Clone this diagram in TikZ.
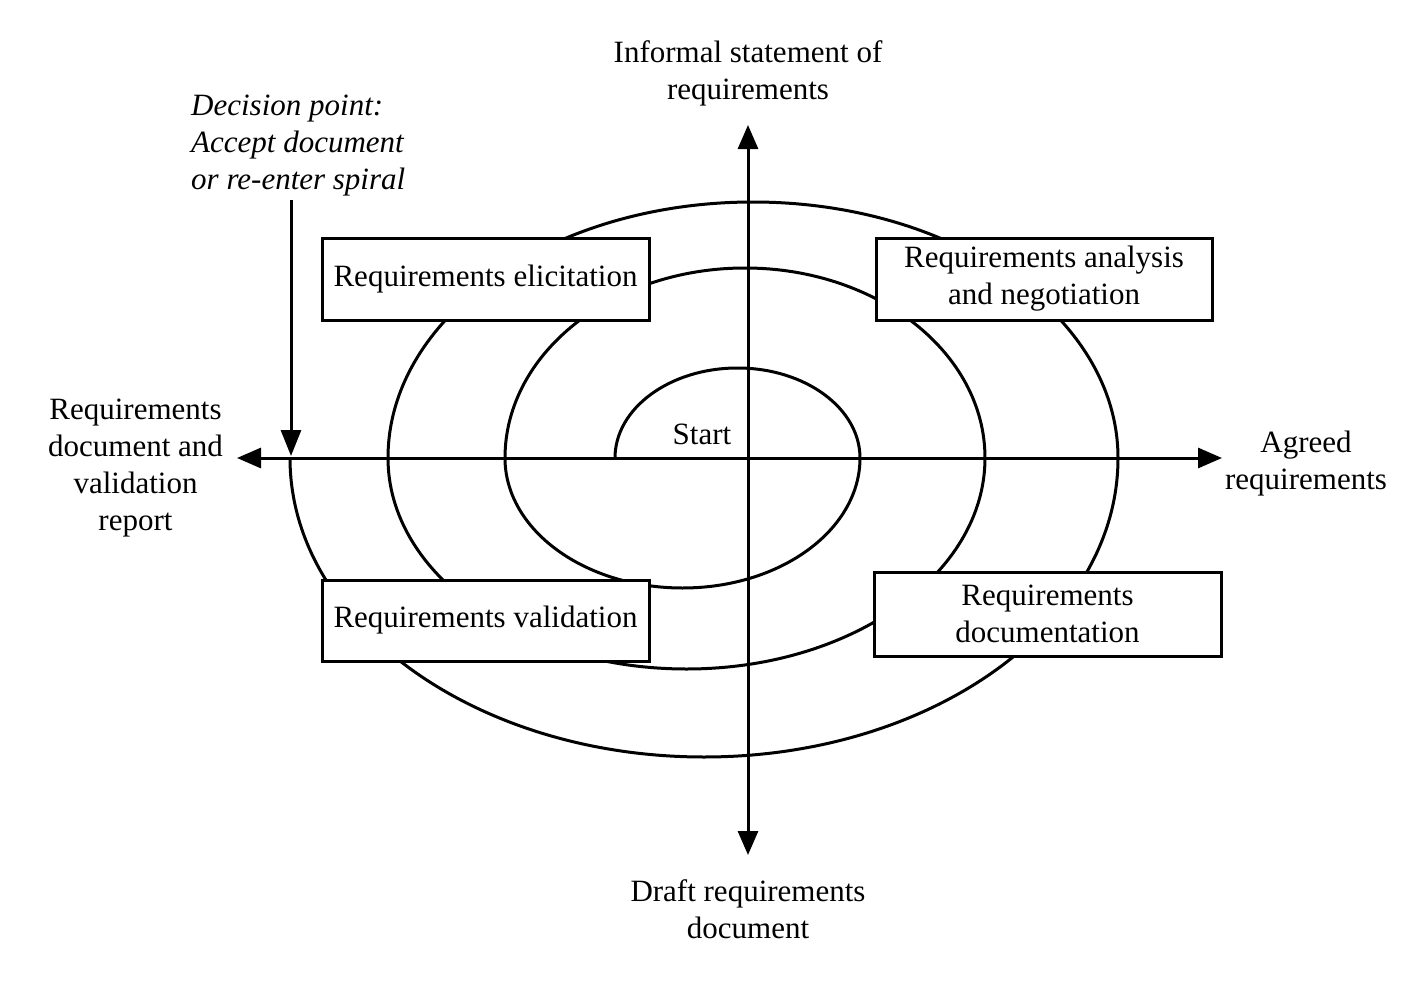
\documentclass[tikz,border=0pt]{standalone}
\usepackage{fontspec}
\setmainfont{Liberation Serif}
\usetikzlibrary{arrows.meta}
\begin{document}
\begin{tikzpicture}[x=1pt,y=1pt,
  line/.style={line width=3pt},
  twotips/.style={{Triangle[length=24pt,width=20pt]}-{Triangle[length=24pt,width=20pt]}},
  onetip/.style={-{Triangle[length=26pt,width=20pt]}},
  box/.style={draw,line width=3pt,fill=white,align=center,inner sep=0pt},
  lbl/.style={align=center,inner sep=0pt},
  font=\fontsize{31}{37}\selectfont]
\fill[white] (0,0) rectangle (1414,-982);
\useasboundingbox (0,0) rectangle (1414,-982);
% spiral
\draw[line] (615,-458)
  arc[start angle=180,end angle=0,x radius=122.5pt,y radius=90pt]
  arc[start angle=0,end angle=-180,x radius=177.5pt,y radius=130pt]
  arc[start angle=180,end angle=0,x radius=240pt,y radius=190pt]
  arc[start angle=0,end angle=-180,x radius=298.5pt,y radius=211pt]
  arc[start angle=180,end angle=0,x radius=365pt,y radius=256pt]
  arc[start angle=0,end angle=-180,x radius=414pt,y radius=299pt];
% axes
\coordinate (hL) at (237,-458);
\coordinate (hR) at (1222,-458);
\coordinate (vT) at (748,-125);
\coordinate (vB) at (748,-855);
\draw[line,twotips] (hL) -- (hR);
\draw[line,twotips] (vT) -- (vB);
% decision arrow
\coordinate (dTop) at (291,-200);
\coordinate (dEnd) at (291,-456);
\draw[line,onetip] (dTop) -- (dEnd);
% boxes
\node[box,minimum width=327pt,minimum height=82pt] (elic) at (485.5,-279) {Requirements elicitation};
\node[box,minimum width=336pt,minimum height=82pt] (anal) at (1044,-279) {Requirements analysis\\and negotiation};
\node[box,minimum width=327pt,minimum height=81pt] (vali) at (485.5,-620.5) {Requirements validation};
\node[box,minimum width=347pt,minimum height=84pt] (docu) at (1047.5,-614) {Requirements\\documentation};
% labels
\node[lbl] (inf) at (748,-73) {Informal statement of\\requirements};
\node[lbl,align=left,anchor=west,font=\fontsize{31}{37}\selectfont\itshape] (dec) at (191,-146) {Decision point:\\Accept document\\or re-enter spiral};
\node[lbl] (rdoc) at (135.5,-468) {Requirements\\document and\\validation\\report};
\node[lbl] (start) at (702,-434) {Start};
\node[lbl] (agr) at (1306,-464) {Agreed\\requirements};
\node[lbl] (draft) at (748,-909) {Draft requirements\\document};
\end{tikzpicture}
\end{document}
